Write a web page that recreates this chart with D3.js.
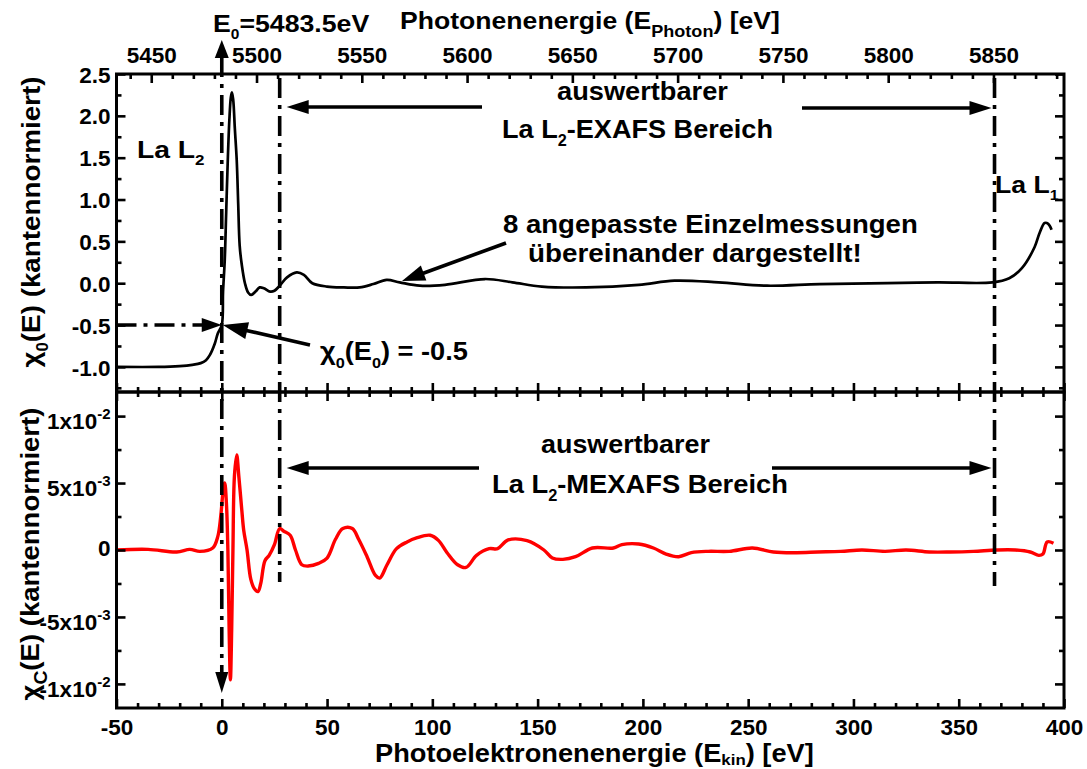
<!DOCTYPE html>
<html><head><meta charset="utf-8">
<script src="https://cdn.jsdelivr.net/npm/d3@7"></script>
<style>
html,body{margin:0;padding:0;background:#fff;}
svg{display:block;font-family:"Liberation Sans",Arial,sans-serif;font-weight:bold;}
</style></head><body>
<svg id="chart" width="1087" height="769"></svg>
<script>
// Edge energy of the La L2 edge (photon energy at chi0 = -0.5)
const E0 = 5483.5;

// Normalised absorption chi0(E) versus kinetic photoelectron energy [eV]
const ekinChi0 = [-50,-30,-20,-14,-10,-7.5,-5.7,-3.3,-1.9,0,0.6,1.4,2.1,2.85,3.6,4.3,4.8,5.4,6.2,7.1,7.8,8.5,9.5,11,12.5,14,16,18,20,23,25,27.5,31,35.6,39,43,50,58,65.5,72,78.3,84.5,94,106,125,138,152,173,198,215,236,259,284,316,340,366,374,380,386,388.4,390.8,392.5,394.1];
const chi0 = [-1.0,-1.0,-0.99,-0.975,-0.955,-0.92,-0.86,-0.72,-0.6,-0.5,-0.1,0.27,0.85,1.47,1.95,2.22,2.28,2.2,1.85,1.47,0.95,0.45,0.22,0.0,-0.11,-0.14,-0.1,-0.05,-0.06,-0.1,-0.09,-0.03,0.07,0.13,0.1,0.0,-0.04,-0.05,-0.05,-0.01,0.04,0.01,-0.03,-0.02,0.05,0.01,-0.04,-0.05,-0.02,0.03,0.01,-0.03,-0.01,0.0,0.01,0.01,0.06,0.18,0.43,0.6,0.72,0.71,0.64];

// Fine structure chiC(E) versus kinetic photoelectron energy [eV]
const ekinChiC = [-50,-35,-21.4,-15.2,-10.4,-4.3,-1.9,-0.5,0.5,1.4,2.2,2.9,3.5,4.1,4.7,5.3,6.0,7.1,8.1,9.5,10.4,12,13.8,15.5,17.2,18.5,20.5,22.5,25,27.5,29.5,32.5,35,38,41,46,50,54,57.5,62,65,69,73,75,78.5,83,88,92.5,99,103,107,112,116,121,127,131,136,145,153,157,162,168,176,186,190,198,205,211,217,223,231,241,252,262,273,283,294,304,315,325,336,346,357,368,377,384,388,390,392,395];
const chiC = [0,0.00005,-0.00015,0.00005,-0.0001,0.00015,0.001,0.0025,0.0042,0.005,0.0035,0.0,-0.006,-0.0097,-0.006,0.0,0.0055,0.0071,0.0055,0.003,0.0015,0.0,-0.0022,-0.0029,-0.0031,-0.0025,-0.0008,-0.0004,0.0004,0.0016,0.0014,0.0011,0.0,-0.0011,-0.0012,-0.001,-0.0006,0.0008,0.0016,0.0016,0.0008,-0.0005,-0.0019,-0.0021,-0.0011,0.0001,0.0006,0.0009,0.0011,0.0007,-0.0002,-0.0011,-0.0013,-0.0004,0.0001,0.0001,0.00075,0.0007,0.0,-0.0006,-0.0007,-0.0005,0.00015,0.00015,0.0004,0.00045,0.00015,-0.0003,-0.0005,-0.0002,-0.0001,-0.0001,0.00015,-0.00015,-0.0002,-0.00015,-0.0001,0.0,-0.0001,0.0,-0.00015,-0.00015,-0.0001,0.0,0.0,-0.00015,-0.0004,-0.0003,0.0006,0.0005];

// Ticks
const ekinTicks = [-50,0,50,100,150,200,250,300,350,400];
const ekinLabels = ["-50","0","50","100","150","200","250","300","350","400"];
const ekinMinor = d3.range(-40,400,10).filter(v => v % 50 !== 0);
const photonTicks = [5450,5500,5550,5600,5650,5700,5750,5800,5850];
const photonLabels = ["5450","5500","5550","5600","5650","5700","5750","5800","5850"];
const photonMinor = d3.range(5440,5881,10).filter(v => v % 50 !== 0);
const chi0Ticks = [-1.0,-0.5,0.0,0.5,1.0,1.5,2.0,2.5];
const chi0Labels = ["-1.0","-0.5","0.0","0.5","1.0","1.5","2.0","2.5"];
const chi0Minor = [-1.25,-0.75,-0.25,0.25,0.75,1.25,1.75,2.25];
const chiCTicks = [-0.01,-0.005,0,0.005,0.01];
const chiCMantissa = ["-1x10","-5x10","0","5x10","1x10"];
const chiCExponent = ["-2","-3","","-3","-2"];
const chiCMinor = [-0.0075,-0.0025,0.0025,0.0075];

// Evaluable EXAFS range (kinetic energy)
const rangeStart = 27.5, rangeEnd = 367;

const svg = d3.select("#chart");
const P = {left:116.5, right:1064, top:74, mid:392, bottom:708};

const x = d3.scaleLinear().domain([-50,400]).range([P.left,P.right]);
const xPhoton = d3.scaleLinear().domain([-50+E0,400+E0]).range([P.left,P.right]);
const y0 = d3.scaleLinear().domain([-1.3,2.5]).range([P.mid,P.top]);
const yC = d3.scaleLinear().domain([-0.0118,0.0118]).range([P.bottom,P.mid]);

// ---------- rich text helper (sub/superscripts, fitted width) ----------
function rich(parent, parts, size, o) {
  const g = parent.append("g");
  const t = g.append("text").attr("font-size", size).attr("text-anchor", o.anchor || "start").attr("fill","#000");
  let shift = 0;
  for (const p of parts) {
    const s = t.append("tspan").text(p.t);
    let target = 0, fs = size;
    if (p.sub) { target = size * (p.dy || 0.3); fs = size * (p.scale || 0.6); }
    if (p.sup) { target = -size * (p.dy || 0.42); fs = size * (p.scale || 0.65); }
    s.attr("font-size", fs).attr("dy", target - shift);
    shift = target;
  }
  let sx = 1;
  if (o.width) sx = o.width / t.node().getBBox().width;
  g.attr("transform", `translate(${o.x},${o.y})` + (o.rotate ? ` rotate(${o.rotate})` : "") + ` scale(${sx},1)`);
  return g;
}

function styleAxis(g) {
  g.select(".domain").remove();
  g.selectAll(".tick line").attr("stroke","#000").attr("stroke-width",2.6);
  g.selectAll(".tick text").attr("font-size",22.5).attr("font-weight","bold").attr("fill","#000")
    .attr("font-family",'"Liberation Sans",Arial,sans-serif');
}
function axis(gen, tx, ty) {
  const g = svg.append("g").attr("transform",`translate(${tx},${ty})`).call(gen);
  styleAxis(g);
  return g;
}

// ---------- curves ----------
svg.append("clipPath").attr("id","cTop").append("rect")
  .attr("x",P.left).attr("y",P.top).attr("width",P.right-P.left).attr("height",P.mid-P.top);
svg.append("clipPath").attr("id","cBot").append("rect")
  .attr("x",P.left).attr("y",P.mid).attr("width",P.right-P.left).attr("height",P.bottom-P.mid);

const lineTop = d3.line().x((d,i)=>x(ekinChi0[i])).y(d=>y0(d)).curve(d3.curveCatmullRom.alpha(0.5));
svg.append("path").attr("clip-path","url(#cTop)").datum(chi0).attr("d",lineTop)
  .attr("fill","none").attr("stroke","#000").attr("stroke-width",2.7).attr("stroke-linejoin","round");

const lineBot = d3.line().x((d,i)=>x(ekinChiC[i])).y(d=>yC(d)).curve(d3.curveCatmullRom.alpha(0.5));
svg.append("path").attr("clip-path","url(#cBot)").datum(chiC).attr("d",lineBot)
  .attr("fill","none").attr("stroke","#ff0000").attr("stroke-width",3.4).attr("stroke-linejoin","round");

// ---------- axes ----------
// upper panel
axis(d3.axisLeft(y0).tickValues(chi0Ticks).tickSize(-9).tickPadding(6).tickFormat((d,i)=>chi0Labels[i]), P.left, 0)
  .selectAll(".tick text").attr("dy","0.36em");
axis(d3.axisLeft(y0).tickValues(chi0Minor).tickSize(-5).tickFormat(""), P.left, 0);
axis(d3.axisRight(y0).tickValues(chi0Ticks).tickSize(-9).tickFormat(""), P.right, 0);
axis(d3.axisRight(y0).tickValues(chi0Minor).tickSize(-5).tickFormat(""), P.right, 0);
axis(d3.axisTop(xPhoton).tickValues(photonTicks).tickSize(-9).tickPadding(11).tickFormat((d,i)=>photonLabels[i]), 0, P.top);
axis(d3.axisTop(xPhoton).tickValues(photonMinor.filter(v=>xPhoton(v)>P.left && xPhoton(v)<P.right)).tickSize(-5).tickFormat(""), 0, P.top);
axis(d3.axisBottom(x).tickValues(ekinTicks).tickSize(-9).tickFormat(""), 0, P.mid);
axis(d3.axisBottom(x).tickValues(ekinMinor).tickSize(-5).tickFormat(""), 0, P.mid);
// lower panel
axis(d3.axisTop(x).tickValues(ekinTicks).tickSize(-9).tickFormat(""), 0, P.mid);
axis(d3.axisTop(x).tickValues(ekinMinor).tickSize(-5).tickFormat(""), 0, P.mid);
axis(d3.axisBottom(x).tickValues(ekinTicks).tickSize(-9).tickPadding(11).tickFormat((d,i)=>ekinLabels[i]), 0, P.bottom);
axis(d3.axisBottom(x).tickValues(ekinMinor).tickSize(-5).tickFormat(""), 0, P.bottom);
axis(d3.axisLeft(yC).tickValues(chiCTicks).tickSize(-9).tickFormat(""), P.left, 0);
axis(d3.axisLeft(yC).tickValues(chiCMinor).tickSize(-5).tickFormat(""), P.left, 0);
axis(d3.axisRight(yC).tickValues(chiCTicks).tickSize(-9).tickFormat(""), P.right, 0);
axis(d3.axisRight(yC).tickValues(chiCMinor).tickSize(-5).tickFormat(""), P.right, 0);

// chiC tick labels with exponents
chiCTicks.forEach((v,i) => {
  const t = svg.append("text").attr("x", P.left-6).attr("y", yC(v) + (chiCExponent[i] ? 13 : 6))
    .attr("text-anchor","end").attr("font-size",22.5).attr("fill","#000");
  t.append("tspan").text(chiCMantissa[i]);
  if (chiCExponent[i]) t.append("tspan").attr("font-size",15).attr("dy",-10).text(chiCExponent[i]);
});

// frames
[[P.top,P.mid],[P.mid,P.bottom]].forEach(([a,b]) => {
  svg.append("rect").attr("x",P.left).attr("y",a).attr("width",P.right-P.left).attr("height",b-a)
    .attr("fill","none").attr("stroke","#000").attr("stroke-width",3);
});

// ---------- markers: dash-dot lines and arrows ----------
const dash = "20,7,4,7";
function vline(ek, ya, yb) {
  svg.append("line").attr("x1",x(ek)).attr("x2",x(ek)).attr("y1",ya).attr("y2",yb)
    .attr("stroke","#000").attr("stroke-width",3.6).attr("stroke-dasharray",dash);
}
function head(tx, ty, fx, fy, len, hw) {
  const dx = tx-fx, dy = ty-fy, L = Math.hypot(dx,dy), ux = dx/L, uy = dy/L;
  const bx = tx-ux*len, by = ty-uy*len;
  svg.append("polygon").attr("points",
    `${tx},${ty} ${bx-uy*hw},${by+ux*hw} ${bx+uy*hw},${by-ux*hw}`).attr("fill","#000");
  return [bx,by];
}
function arrow(fx, fy, tx, ty, len, hw, w) {
  const [bx,by] = head(tx,ty,fx,fy,len,hw);
  svg.append("line").attr("x1",fx).attr("y1",fy).attr("x2",bx+(tx-fx)*0.01).attr("y2",by+(ty-fy)*0.01)
    .attr("stroke","#000").attr("stroke-width",w||3.6);
}

// edge position E0, with arrowheads on both ends
vline(0, 57, 673);
head(x(0), 40, x(0), 60, 18, 7);
head(x(0), 693, x(0), 670, 21, 6.5);
// begin and end of the evaluable range
vline(rangeStart, 78, 582);
vline(rangeEnd, 78, 586);

// chi0 = -0.5 guide
svg.append("line").attr("x1",P.left).attr("x2",x(0)-19).attr("y1",y0(-0.5)).attr("y2",y0(-0.5))
  .attr("stroke","#000").attr("stroke-width",3.6).attr("stroke-dasharray",dash);
head(x(0), y0(-0.5), P.left, y0(-0.5), 20, 7);

// range arrows, upper panel
arrow(482, 107, x(rangeStart)+7, 107, 22, 7);
arrow(802, 108, x(rangeEnd)-3, 108, 22, 7);
// range arrows, lower panel
arrow(479, 468, x(rangeStart)+7, 468, 22, 7);
arrow(772, 468, x(rangeEnd)-3, 468, 22, 7);

// annotation arrows
arrow(310, 345, x(0)+1, y0(-0.5), 25, 8.5);
arrow(506, 243, 402, 281, 23, 8);

// ---------- texts ----------
rich(svg, [{t:"E"},{t:"0",sub:true,scale:0.58},{t:"=5483.5eV"}], 24.5, {x:213, y:32, width:157});
rich(svg, [{t:"Photonenenergie (E"},{t:"Photon",sub:true,scale:0.68,dy:0.32},{t:") [eV]"}], 24, {x:400, y:29, width:380});
rich(svg, [{t:"Photoelektronenenergie (E"},{t:"kin",sub:true,scale:0.62,dy:0.1},{t:") [eV]"}], 25, {x:375, y:762, width:439});

rich(svg, [{t:"La L"},{t:"2",sub:true}], 23, {x:137, y:158, width:68});
rich(svg, [{t:"La L"},{t:"1",sub:true}], 23, {x:995, y:193, width:64});

rich(svg, [{t:"auswertbarer"}], 26, {x:557, y:100, width:171});
rich(svg, [{t:"La L"},{t:"2",sub:true},{t:"-EXAFS Bereich"}], 26, {x:502, y:138, width:271});
rich(svg, [{t:"auswertbarer"}], 26, {x:541, y:453, width:169});
rich(svg, [{t:"La L"},{t:"2",sub:true},{t:"-MEXAFS Bereich"}], 26, {x:492, y:493, width:296});

rich(svg, [{t:"8 angepasste Einzelmessungen"}], 25.5, {x:503, y:233, width:415});
rich(svg, [{t:"übereinander dargestellt!"}], 25.5, {x:528, y:262, width:334});

rich(svg, [{t:"χ"},{t:"0",sub:true},{t:"(E"},{t:"0",sub:true},{t:") = -0.5"}], 25, {x:320, y:360, width:148});

rich(svg, [{t:"χ"},{t:"0",sub:true},{t:"(E) (kantennormiert)"}], 26, {x:40, y:222, width:291, anchor:"middle", rotate:-90});
rich(svg, [{t:"χ"},{t:"C",sub:true,scale:0.7},{t:"(E) (kantennormiert)"}], 26, {x:39, y:554, width:293, anchor:"middle", rotate:-90});
</script></body></html>
